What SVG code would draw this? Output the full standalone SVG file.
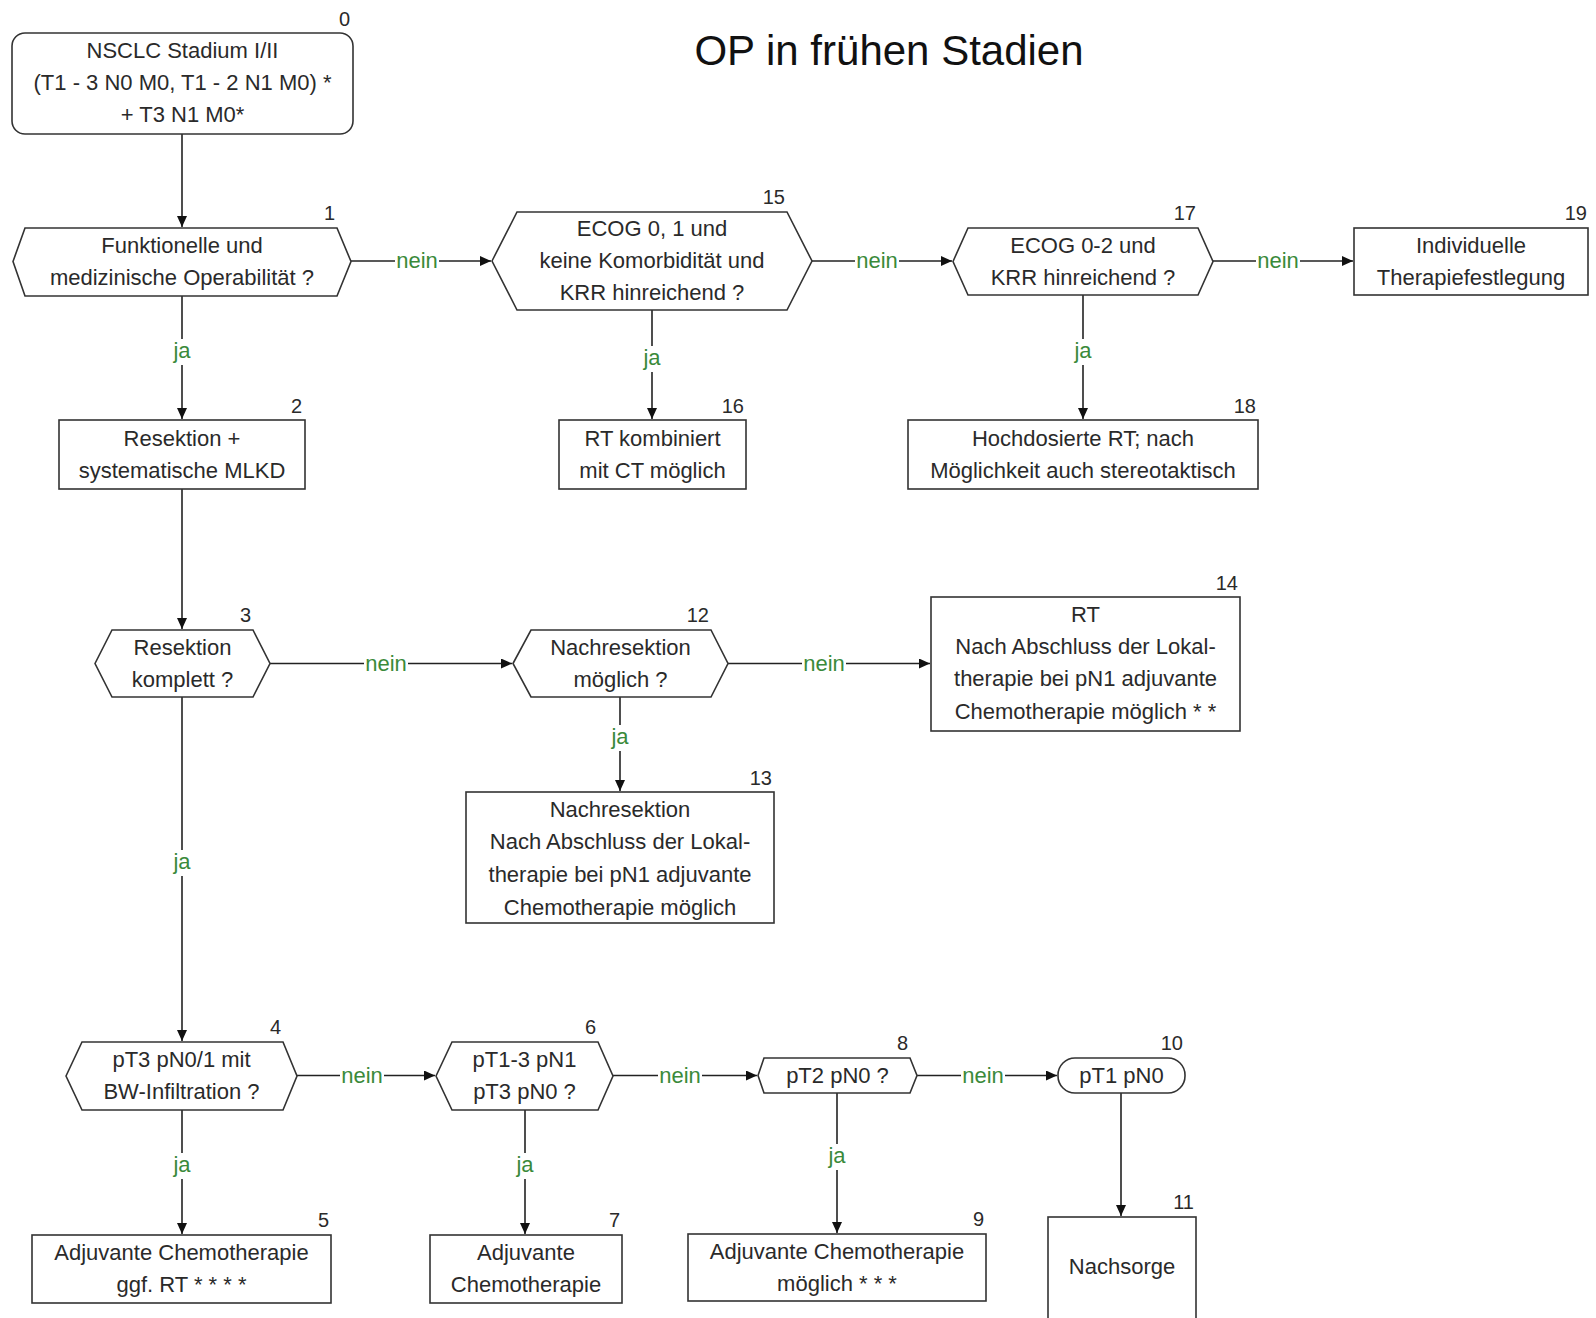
<svg xmlns="http://www.w3.org/2000/svg" width="1596" height="1318" viewBox="0 0 1596 1318">
  <style>
    .box { fill: #fff; stroke: #333; stroke-width: 1.6; }
    .t { font-family: "Liberation Sans", Arial, sans-serif; font-size: 22px; fill: #2a2a2a; text-anchor: middle; }
    .n { font-family: "Liberation Sans", Arial, sans-serif; font-size: 20px; fill: #2a2a2a; text-anchor: end; }
    .lbl { font-family: "Liberation Sans", Arial, sans-serif; font-size: 22px; fill: #3a8a3a; text-anchor: middle; }
    .ln { fill: none; stroke: #222; stroke-width: 1.6; }
    .title { font-family: "Liberation Sans", Arial, sans-serif; font-size: 42px; fill: #111; text-anchor: middle; }
  </style>
  <defs>
    <marker id="arr" markerUnits="userSpaceOnUse" markerWidth="12" markerHeight="11" refX="11" refY="5" orient="auto">
      <path d="M0,0 L11,5 L0,10 z" fill="#111"/>
    </marker>
  </defs>
  <rect width="1596" height="1318" fill="#fff"/>

  <text class="title" x="889" y="65">OP in frühen Stadien</text>

  <!-- connectors -->
  <g id="connectors">
    <path class="ln" d="M182,134 V227" marker-end="url(#arr)"/>
    <!-- 1 -> 15 -->
    <path class="ln" d="M351,261 H395"/>
    <path class="ln" d="M439,261 H491" marker-end="url(#arr)"/>
    <text class="lbl" x="417" y="268">nein</text>
    <!-- 15 -> 17 -->
    <path class="ln" d="M812,261 H855"/>
    <path class="ln" d="M899,261 H952" marker-end="url(#arr)"/>
    <text class="lbl" x="877" y="268">nein</text>
    <!-- 17 -> 19 -->
    <path class="ln" d="M1213,261 H1256"/>
    <path class="ln" d="M1300,261 H1353" marker-end="url(#arr)"/>
    <text class="lbl" x="1278" y="268">nein</text>
    <!-- 1 -> 2 -->
    <path class="ln" d="M182,296 V339"/>
    <path class="ln" d="M182,365 V419" marker-end="url(#arr)"/>
    <text class="lbl" x="182" y="358">ja</text>
    <!-- 15 -> 16 -->
    <path class="ln" d="M652,310 V346"/>
    <path class="ln" d="M652,372 V419" marker-end="url(#arr)"/>
    <text class="lbl" x="652" y="365">ja</text>
    <!-- 17 -> 18 -->
    <path class="ln" d="M1083,295 V339"/>
    <path class="ln" d="M1083,365 V419" marker-end="url(#arr)"/>
    <text class="lbl" x="1083" y="358">ja</text>
    <!-- 2 -> 3 -->
    <path class="ln" d="M182,489 V629" marker-end="url(#arr)"/>
    <!-- 3 -> 12 -->
    <path class="ln" d="M270,663.5 H364"/>
    <path class="ln" d="M408,663.5 H512" marker-end="url(#arr)"/>
    <text class="lbl" x="386" y="670.5">nein</text>
    <!-- 12 -> 14 -->
    <path class="ln" d="M728,663.5 H802"/>
    <path class="ln" d="M846,663.5 H930" marker-end="url(#arr)"/>
    <text class="lbl" x="824" y="670.5">nein</text>
    <!-- 12 -> 13 -->
    <path class="ln" d="M620,697 V725"/>
    <path class="ln" d="M620,751 V791" marker-end="url(#arr)"/>
    <text class="lbl" x="620" y="744">ja</text>
    <!-- 3 -> 4 -->
    <path class="ln" d="M182,697 V850"/>
    <path class="ln" d="M182,876 V1041" marker-end="url(#arr)"/>
    <text class="lbl" x="182" y="869">ja</text>
    <!-- 4 -> 6 -->
    <path class="ln" d="M297,1075.5 H340"/>
    <path class="ln" d="M384,1075.5 H435" marker-end="url(#arr)"/>
    <text class="lbl" x="362" y="1082.5">nein</text>
    <!-- 6 -> 8 -->
    <path class="ln" d="M613,1075.5 H658"/>
    <path class="ln" d="M702,1075.5 H757" marker-end="url(#arr)"/>
    <text class="lbl" x="680" y="1082.5">nein</text>
    <!-- 8 -> 10 -->
    <path class="ln" d="M917,1075.5 H961"/>
    <path class="ln" d="M1005,1075.5 H1057" marker-end="url(#arr)"/>
    <text class="lbl" x="983" y="1082.5">nein</text>
    <!-- 4 -> 5 -->
    <path class="ln" d="M182,1110 V1153"/>
    <path class="ln" d="M182,1179 V1234" marker-end="url(#arr)"/>
    <text class="lbl" x="182" y="1172">ja</text>
    <!-- 6 -> 7 -->
    <path class="ln" d="M525,1110 V1153"/>
    <path class="ln" d="M525,1179 V1234" marker-end="url(#arr)"/>
    <text class="lbl" x="525" y="1172">ja</text>
    <!-- 8 -> 9 -->
    <path class="ln" d="M837,1092 V1144"/>
    <path class="ln" d="M837,1170 V1233" marker-end="url(#arr)"/>
    <text class="lbl" x="837" y="1163">ja</text>
    <!-- 10 -> 11 -->
    <path class="ln" d="M1121,1092 V1216" marker-end="url(#arr)"/>
  </g>

  <!-- nodes -->
  <g id="node0">
    <rect class="box" x="12" y="33" width="341" height="101" rx="13"/>
    <text class="n" x="350" y="26">0</text>
    <text class="t" x="182.5" y="58">NSCLC Stadium I/II</text>
    <text class="t" x="182.5" y="90">(T1 - 3 N0 M0, T1 - 2 N1 M0) *</text>
    <text class="t" x="182.5" y="122">+ T3 N1 M0*</text>
  </g>

  <g id="node1">
    <polygon class="box" points="13,261.5 25,228 337,228 351,261.5 337,296 25,296"/>
    <text class="n" x="335" y="220">1</text>
    <text class="t" x="182" y="252.5">Funktionelle und</text>
    <text class="t" x="182" y="284.5">medizinische Operabilität ?</text>
  </g>

  <g id="node15">
    <polygon class="box" points="492,261 517,212 787,212 812,261 787,310 517,310"/>
    <text class="n" x="785" y="204">15</text>
    <text class="t" x="652" y="236">ECOG 0, 1 und</text>
    <text class="t" x="652" y="268">keine Komorbidität und</text>
    <text class="t" x="652" y="300">KRR hinreichend ?</text>
  </g>

  <g id="node17">
    <polygon class="box" points="953,261.5 968,228 1198,228 1213,261.5 1198,295 968,295"/>
    <text class="n" x="1196" y="220">17</text>
    <text class="t" x="1083" y="252.5">ECOG 0-2 und</text>
    <text class="t" x="1083" y="284.5">KRR hinreichend ?</text>
  </g>

  <g id="node19">
    <rect class="box" x="1354" y="228" width="234" height="67"/>
    <text class="n" x="1587" y="220">19</text>
    <text class="t" x="1471" y="252.5">Individuelle</text>
    <text class="t" x="1471" y="284.5">Therapiefestlegung</text>
  </g>

  <g id="node2">
    <rect class="box" x="59" y="420" width="246" height="69"/>
    <text class="n" x="302" y="413">2</text>
    <text class="t" x="182" y="445.5">Resektion +</text>
    <text class="t" x="182" y="477.5">systematische MLKD</text>
  </g>

  <g id="node16">
    <rect class="box" x="559" y="420" width="187" height="69"/>
    <text class="n" x="744" y="413">16</text>
    <text class="t" x="652.5" y="445.5">RT kombiniert</text>
    <text class="t" x="652.5" y="477.5">mit CT möglich</text>
  </g>

  <g id="node18">
    <rect class="box" x="908" y="420" width="350" height="69"/>
    <text class="n" x="1256" y="413">18</text>
    <text class="t" x="1083" y="445.5">Hochdosierte RT; nach</text>
    <text class="t" x="1083" y="477.5">Möglichkeit auch stereotaktisch</text>
  </g>

  <g id="node3">
    <polygon class="box" points="95,663.5 112,630 253,630 270,663.5 253,697 112,697"/>
    <text class="n" x="251" y="622">3</text>
    <text class="t" x="182.5" y="654.5">Resektion</text>
    <text class="t" x="182.5" y="686.5">komplett ?</text>
  </g>

  <g id="node12">
    <polygon class="box" points="513,663.5 531,630 711,630 728,663.5 711,697 531,697"/>
    <text class="n" x="709" y="622">12</text>
    <text class="t" x="620.5" y="654.5">Nachresektion</text>
    <text class="t" x="620.5" y="686.5">möglich ?</text>
  </g>

  <g id="node14">
    <rect class="box" x="931" y="597" width="309" height="134"/>
    <text class="n" x="1238" y="590">14</text>
    <text class="t" x="1085.5" y="622">RT</text>
    <text class="t" x="1085.5" y="654">Nach Abschluss der Lokal-</text>
    <text class="t" x="1085.5" y="686">therapie bei pN1 adjuvante</text>
    <text class="t" x="1085.5" y="719">Chemotherapie möglich * *</text>
  </g>

  <g id="node13">
    <rect class="box" x="466" y="792" width="308" height="131"/>
    <text class="n" x="772" y="785">13</text>
    <text class="t" x="620" y="817">Nachresektion</text>
    <text class="t" x="620" y="849">Nach Abschluss der Lokal-</text>
    <text class="t" x="620" y="882">therapie bei pN1 adjuvante</text>
    <text class="t" x="620" y="915">Chemotherapie möglich</text>
  </g>

  <g id="node4">
    <polygon class="box" points="66,1076 82,1042 283,1042 297,1076 283,1110 82,1110"/>
    <text class="n" x="281" y="1034">4</text>
    <text class="t" x="181.5" y="1066.5">pT3 pN0/1 mit</text>
    <text class="t" x="181.5" y="1098.5">BW-Infiltration ?</text>
  </g>

  <g id="node6">
    <polygon class="box" points="436,1076 452,1042 598,1042 613,1076 598,1110 452,1110"/>
    <text class="n" x="596" y="1034">6</text>
    <text class="t" x="524.5" y="1066.5">pT1-3 pN1</text>
    <text class="t" x="524.5" y="1098.5">pT3 pN0 ?</text>
  </g>

  <g id="node8">
    <polygon class="box" points="758,1075.5 764,1058 910,1058 917,1075.5 910,1093 764,1093"/>
    <text class="n" x="908" y="1050">8</text>
    <text class="t" x="837.5" y="1083">pT2 pN0 ?</text>
  </g>

  <g id="node10">
    <rect class="box" x="1058" y="1058" width="127" height="35" rx="17"/>
    <text class="n" x="1183" y="1050">10</text>
    <text class="t" x="1121.5" y="1083">pT1 pN0</text>
  </g>

  <g id="node5">
    <rect class="box" x="32" y="1235" width="299" height="68"/>
    <text class="n" x="329" y="1227">5</text>
    <text class="t" x="181.5" y="1259.5">Adjuvante Chemotherapie</text>
    <text class="t" x="181.5" y="1291.5">ggf. RT * * * *</text>
  </g>

  <g id="node7">
    <rect class="box" x="430" y="1235" width="192" height="68"/>
    <text class="n" x="620" y="1227">7</text>
    <text class="t" x="526" y="1259.5">Adjuvante</text>
    <text class="t" x="526" y="1291.5">Chemotherapie</text>
  </g>

  <g id="node9">
    <rect class="box" x="688" y="1234" width="298" height="67"/>
    <text class="n" x="984" y="1226">9</text>
    <text class="t" x="837" y="1258.5">Adjuvante Chemotherapie</text>
    <text class="t" x="837" y="1290.5">möglich * * *</text>
  </g>

  <g id="node11">
    <rect class="box" x="1048" y="1217" width="148" height="115"/>
    <text class="n" x="1194" y="1209">11</text>
    <text class="t" x="1122" y="1274">Nachsorge</text>
  </g>
</svg>
